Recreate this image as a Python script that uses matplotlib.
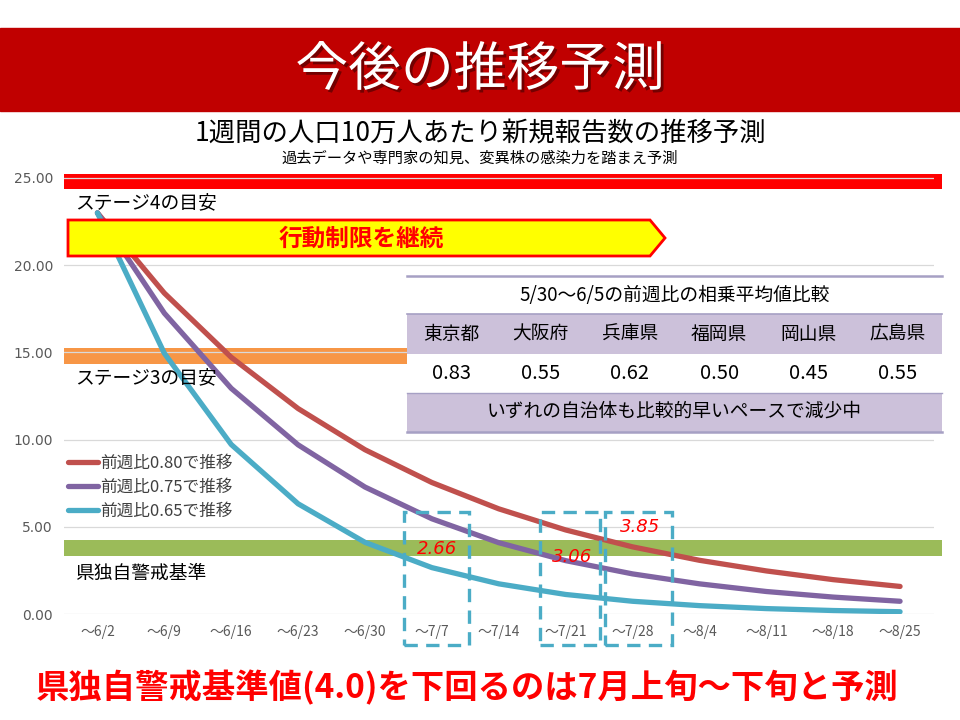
import matplotlib
matplotlib.use("Agg")
import matplotlib.pyplot as plt
from matplotlib.patches import Rectangle, Polygon
from matplotlib.lines import Line2D
import matplotlib.patheffects as pe

plt.rcParams['font.family'] = ['Noto Sans CJK JP', 'DejaVu Sans']

# ---------------- data ----------------
categories = ["～6/2", "～6/9", "～6/16", "～6/23", "～6/30", "～7/7", "～7/14",
              "～7/21", "～7/28", "～8/4", "～8/11", "～8/18", "～8/25"]
series_080 = [23.0, 18.4, 14.72, 11.78, 9.42, 7.54, 6.03, 4.82, 3.85, 3.08, 2.47, 1.97, 1.58]
series_075 = [23.0, 17.25, 12.94, 9.70, 7.28, 5.46, 4.09, 3.06, 2.30, 1.73, 1.29, 0.97, 0.73]
series_065 = [23.0, 14.95, 9.72, 6.32, 4.11, 2.66, 1.73, 1.12, 0.73, 0.48, 0.31, 0.20, 0.13]
series_labels = ["前週比0.80で推移", "前週比0.75で推移", "前週比0.65で推移"]
thresholds = [25.0, 15.0, 4.0]
threshold_labels = ["ステージ4の目安", "ステージ3の目安", "県独自警戒基準"]
yticks = [0, 5, 10, 15, 20, 25]

table_title = "5/30～6/5の前週比の相乗平均値比較"
prefectures = ["東京都", "大阪府", "兵庫県", "福岡県", "岡山県", "広島県"]
pref_ratios = [0.83, 0.55, 0.62, 0.50, 0.45, 0.55]
table_note = "いずれの自治体も比較的早いペースで減少中"

# highlighted points: (series index, category index)
highlights = [(2, 5), (1, 7), (0, 8)]

# ---------------- layout helpers ----------------
W, H = 960, 720
fig = plt.figure(figsize=(9.6, 7.2), dpi=100)
fig.patch.set_facecolor("white")

def fx(x):
    return x / W

def fy(y):
    return 1 - y / H

# axes geometry: x from 64 to 933.5, y=0 at 614 px, 17.44 px per unit
ppu = 17.44
ymax = 26.0
ax_left, ax_right, ax_bottom = 64, 933.5, 614
ax = fig.add_axes([fx(ax_left), fy(ax_bottom), (ax_right - ax_left) / W, ymax * ppu / H])
ax.set_xlim(-0.5, len(categories) - 0.5)
ax.set_ylim(0, ymax)
for s in ax.spines.values():
    s.set_visible(False)
ax.set_facecolor("none")
ax.tick_params(length=0, colors="#595959")
ax.set_yticks(yticks)
ax.set_yticklabels([f"{v:.2f}" for v in yticks], fontsize=10, color="#595959",
                   family=["DejaVu Sans"])
ax.set_xticks(range(len(categories)))
ax.set_xticklabels(categories, fontsize=10, color="#595959")
ax.tick_params(axis="y", pad=8)
ax.tick_params(axis="x", pad=8)
for v in yticks:
    ax.axhline(v, color="#D9D9D9", lw=0.9, zorder=2)

# threshold bands
band_colors = ["#FF0000", "#F79646", "#9BBB59"]
band_xmax = [1.0095, 0.395, 1.0095]
for v, c, xm in zip(thresholds, band_colors, band_xmax):
    ax.axhspan(v - 0.65, v + 0.25, xmin=0, xmax=xm, color=c, zorder=1, clip_on=False, lw=0)

# lines
line_colors = ["#C0504D", "#8064A2", "#4BACC6"]
all_series = [series_080, series_075, series_065]
xs = list(range(len(categories)))
handles = []
for ser, c, lab in zip(all_series, line_colors, series_labels):
    ln, = ax.plot(xs, ser, color=c, lw=3.8, solid_capstyle="round",
                  solid_joinstyle="round", zorder=5, label=lab)
    handles.append(ln)

leg = ax.legend(handles=handles, loc="upper left",
                bbox_to_anchor=((68 - ax_left) / (ax_right - ax_left), (ax_bottom - 455) / (ymax * ppu)),
                frameon=False, fontsize=12, handlelength=1.8, handletextpad=0.15,
                labelspacing=0.42, borderpad=0, borderaxespad=0)
for t in leg.get_texts():
    t.set_color("#404040")

# highlight boxes and value labels
box_spans = [(4.59, 5.55), (6.62, 7.52), (7.59, 8.59)]
label_offsets = [(0.07, 1.05), (0.1, 0.2), (0.12, 1.12)]
for (si, ci), (x0, x1), (dx, dy) in zip(highlights, box_spans, label_offsets):
    y0, y1 = -1.78, 5.85
    ax.add_patch(Rectangle((x0, y0), x1 - x0, y1 - y0, fill=False, ec="#4BACC6",
                           lw=2.4, ls=(0, (4, 2.5)), zorder=6, clip_on=False))
    val = all_series[si][ci]
    ax.text(ci + dx, val + dy, f"{val:.2f}", color="#FF0000", fontsize=13,
            style="italic", family=["DejaVu Sans"], ha="center", va="center", zorder=7)

# threshold text labels
label_px_y = [203, 378, 573]
for lab, py in zip(threshold_labels, label_px_y):
    fig.text(fx(75), fy(py), lab, fontsize=13.5, color="black", ha="left", va="center")

# ---------------- figure decorations ----------------
# banner
fig.patches.append(Rectangle((0, fy(111)), 1, (111 - 28) / H, transform=fig.transFigure,
                             color="#C00000", zorder=0))
fig.text(0.5, fy(70), "今後の推移予測", fontsize=38, color="white", ha="center", va="center",
         path_effects=[pe.withSimplePatchShadow(offset=(2, -2), shadow_rgbFace="#400000", alpha=0.6)])
fig.text(0.5, fy(133), "1週間の人口10万人あたり新規報告数の推移予測", fontsize=19,
         color="black", ha="center", va="center")
fig.text(0.5, fy(158), "過去データや専門家の知見、変異株の感染力を踏まえ予測", fontsize=11,
         color="black", ha="center", va="center")

# yellow arrow
arrow = Polygon([(fx(68), fy(220)), (fx(650), fy(220)), (fx(665), fy(238)),
                 (fx(650), fy(256)), (fx(68), fy(256))], closed=True,
                transform=fig.transFigure, fc="#FFFF00", ec="#FF0000", lw=2, zorder=8)
fig.patches.append(arrow)
fig.text(fx(361), fy(239), "行動制限を継続", fontsize=17, weight="bold", color="#FF0000",
         ha="center", va="center", zorder=9)

# table
tx0, tx1 = 407, 942
fig.patches.append(Rectangle((fx(tx0), fy(432)), (tx1 - tx0) / W, (432 - 276) / H,
                             transform=fig.transFigure, fc="white", ec="none", zorder=8))
for (ya, yb) in [(314, 354), (393, 432)]:
    fig.patches.append(Rectangle((fx(tx0), fy(yb)), (tx1 - tx0) / W, (yb - ya) / H,
                                 transform=fig.transFigure, fc="#CCC1DA", ec="none", zorder=8))
for yl, lw in [(276, 1.8), (314, 1.2), (393, 1.0), (432, 1.8)]:
    fig.lines.append(Line2D([fx(tx0), fx(tx1)], [fy(yl), fy(yl)], transform=fig.transFigure,
                            color="#A6A0C4", lw=lw, zorder=9))
fig.text(fx((tx0 + tx1) / 2), fy(296), table_title, fontsize=13.5, color="black",
         ha="center", va="center", zorder=10)
colw = (tx1 - tx0) / len(prefectures)
for i, (p, r) in enumerate(zip(prefectures, pref_ratios)):
    cx = tx0 + colw * (i + 0.5)
    fig.text(fx(cx), fy(334), p, fontsize=13.5, color="black", ha="center", va="center", zorder=10)
    fig.text(fx(cx), fy(373), f"{r:.2f}", fontsize=14.5, color="black", ha="center",
             va="center", zorder=10)
fig.text(fx((tx0 + tx1) / 2), fy(411), table_note, fontsize=13.5, color="black",
         ha="center", va="center", zorder=10)

# bottom conclusion
fig.text(0.487, fy(688), "県独自警戒基準値(4.0)を下回るのは7月上旬～下旬と予測", fontsize=24,
         weight="bold", color="#FF0000", ha="center", va="center")

fig.savefig("out.png", dpi=100, facecolor="white")
